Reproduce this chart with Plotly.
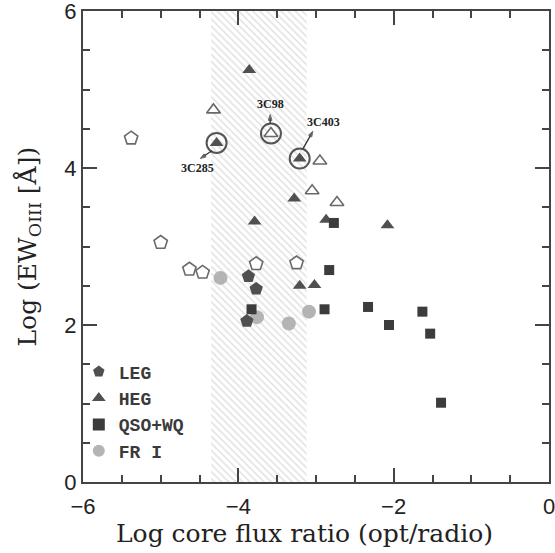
import plotly.graph_objects as go

# ---- data ----
leg_x = [-3.87, -3.77, -3.89]
leg_y = [2.62, 2.46, 2.05]
leg_open_x = [-5.38, -5.00, -4.63, -4.46, -3.77, -3.25]
leg_open_y = [4.38, 3.05, 2.71, 2.67, 2.78, 2.79]
heg_x = [-4.28, -3.86, -3.79, -3.28, -3.21, -2.87, -2.08, -3.21, -3.02]
heg_y = [4.32, 5.25, 3.32, 3.61, 4.12, 3.34, 3.27, 2.50, 2.51]
heg_open_x = [-4.32, -3.58, -2.95, -3.05, -2.73]
heg_open_y = [4.74, 4.44, 4.09, 3.71, 3.56]
qso_x = [-2.77, -2.83, -3.83, -2.89, -2.33, -2.06, -1.63, -1.53, -1.39]
qso_y = [3.30, 2.70, 2.20, 2.20, 2.23, 2.00, 2.17, 1.89, 1.01]
fr1_x = [-4.23, -3.76, -3.35, -3.09]
fr1_y = [2.60, 2.10, 2.02, 2.17]
ring_names = ["3C285", "3C98", "3C403"]
ring_x = [-4.28, -3.58, -3.21]
ring_y = [4.32, 4.44, 4.12]
# label text position, arrow tail (near ring), arrow head (near label)
label_x = [-4.52, -3.58, -2.90]
label_y = [4.00, 4.82, 4.59]
arrow_tail_x = [-4.34, -3.59, -3.17]
arrow_tail_y = [4.22, 4.56, 4.24]
arrow_head_x = [-4.49, -3.59, -3.04]
arrow_head_y = [4.12, 4.68, 4.47]
band_x = [-4.35, -3.12]

DARK = "#505050"
GREY = "#b4b4b4"
OPEN = "#6a6a6a"
TXT = "#222222"

fig = go.Figure()

# hatched band
fig.add_trace(go.Scatter(
    x=[band_x[0], band_x[1], band_x[1], band_x[0], band_x[0]],
    y=[0, 0, 6, 6, 0], mode="lines", fill="toself",
    line=dict(width=0, color="rgba(0,0,0,0)"),
    fillpattern=dict(shape="\\", fgcolor="#c4c4c4", bgcolor="white", size=5, solidity=0.3),
    showlegend=False, hoverinfo="skip"))

fig.add_trace(go.Scatter(x=leg_open_x, y=leg_open_y, mode="markers", showlegend=False,
    marker=dict(symbol="pentagon", size=14, color="white", line=dict(color=OPEN, width=1.6))))
fig.add_trace(go.Scatter(x=heg_open_x, y=heg_open_y, mode="markers", showlegend=False,
    marker=dict(symbol="triangle-up", size=12, color="white", line=dict(color=OPEN, width=1.6))))
fig.add_trace(go.Scatter(x=fr1_x, y=fr1_y, mode="markers", name="FR I", legendrank=4,
    marker=dict(symbol="circle", size=14, color=GREY, line=dict(width=0))))
fig.add_trace(go.Scatter(x=leg_x, y=leg_y, mode="markers", name="LEG", legendrank=1,
    marker=dict(symbol="pentagon", size=14, color=DARK, line=dict(width=0))))
fig.add_trace(go.Scatter(x=heg_x, y=heg_y, mode="markers", name="HEG", legendrank=2,
    marker=dict(symbol="triangle-up", size=12, color=DARK, line=dict(width=0))))
fig.add_trace(go.Scatter(x=qso_x, y=qso_y, mode="markers", name="QSO+WQ", legendrank=3,
    marker=dict(symbol="square", size=10, color="#3c3c3c", line=dict(width=0))))
fig.add_trace(go.Scatter(x=ring_x, y=ring_y, mode="markers", showlegend=False,
    marker=dict(symbol="circle-open", size=20, color="#555555", line=dict(width=2))))

# labels and small arrows (head near the label)
for i, name in enumerate(ring_names):
    fig.add_annotation(x=label_x[i], y=label_y[i], text="<b>%s</b>" % name, showarrow=False,
                       font=dict(family="Liberation Serif", size=12, color=TXT))
    fig.add_trace(go.Scatter(
        x=[arrow_tail_x[i], arrow_head_x[i]], y=[arrow_tail_y[i], arrow_head_y[i]],
        mode="lines+markers", showlegend=False, hoverinfo="skip",
        line=dict(color="#333333", width=1.3),
        marker=dict(symbol="arrow", angleref="previous", size=[0, 6], color="#222222")))

axis_common = dict(
    showgrid=False, zeroline=False, showline=True, linecolor="#444444", linewidth=2,
    mirror="allticks", ticks="inside", ticklen=14, tickwidth=2, tickcolor="#444444",
    automargin=False, ticklabeloverflow="allow",
    tickfont=dict(family="Liberation Sans", size=22, color=TXT),
    minor=dict(ticks="inside", ticklen=7, tickwidth=1.5, tickcolor="#444444", dtick=0.5),
)

fig.update_layout(
    width=555, height=553,
    margin=dict(l=83, r=6, t=11, b=71),
    plot_bgcolor="white", paper_bgcolor="white",
    xaxis=dict(range=[-6, 0], dtick=2, tick0=-6, ticklabelstandoff=4, **axis_common),
    yaxis=dict(range=[0, 6], dtick=2, tick0=0, **axis_common),
    legend=dict(x=-0.009, y=0.273, xanchor="left", yanchor="top", bgcolor="rgba(0,0,0,0)",
                font=dict(family="Liberation Mono", size=18, color="#3a3a3a", weight="bold"),
                itemsizing="constant", tracegroupgap=0),
)

title_font = dict(family="DejaVu Serif", size=25, color=TXT)
fig.add_annotation(x=0.476, y=-0.11, xref="paper", yref="paper", showarrow=False,
                   text="Log core flux ratio (opt/radio)", font=title_font,
                   xanchor="center", yanchor="middle")
fig.add_annotation(x=-0.118, y=0.5, xref="paper", yref="paper", showarrow=False,
                   text="Log (EW<sub>OIII</sub> [Å])", font=title_font, textangle=-90,
                   xanchor="center", yanchor="middle")

# remove the default page margin so the figure fills the window exactly
fig.write_html("out.html", config={"displayModeBar": False},
               post_script="document.body.style.margin='0';")
